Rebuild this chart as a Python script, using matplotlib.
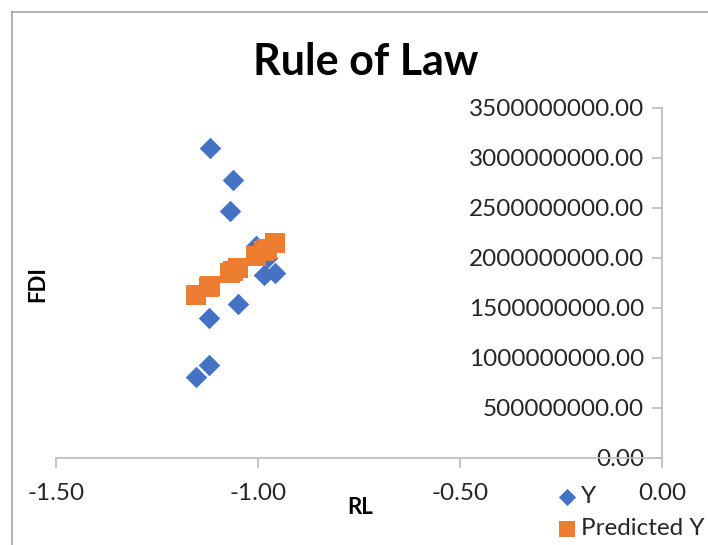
import matplotlib
matplotlib.use("Agg")
import matplotlib.pyplot as plt
from matplotlib.ticker import FuncFormatter, MultipleLocator
from matplotlib.lines import Line2D

plt.rcParams['font.family'] = ['Lato', 'DejaVu Sans']

# Data
rl = [-1.118, -1.062, -1.069, -1.005, -0.978, -0.985, -0.958, -1.049, -1.121, -1.121, -1.153]
fdi_y = [3.10e9, 2.78e9, 2.475e9, 2.12e9, 2.0e9, 1.83e9, 1.855e9, 1.54e9, 1.40e9, 0.93e9, 0.81e9]
fdi_pred = [1.722e9, 1.870e9, 1.852e9, 2.021e9, 2.093e9, 2.074e9, 2.146e9, 1.905e9, 1.714e9, 1.714e9, 1.629e9]

title = "Rule of Law"
x_label = "RL"
y_label = "FDI"
series_names = ["Y", "Predicted Y"]

W, H = 708, 545
fig = plt.figure(figsize=(W / 100, H / 100), dpi=100)

# chart border (partially visible: left & top)
fig.add_artist(Line2D([12 / W, 12 / W], [0, 1 - 12 / H], transform=fig.transFigure,
                      color="#a6a6a6", lw=1.2))
fig.add_artist(Line2D([12 / W, 1], [1 - 12 / H, 1 - 12 / H], transform=fig.transFigure,
                      color="#a6a6a6", lw=1.2))

x0, x1 = 56, 662
ytop, ybot = 108, 458
ax = fig.add_axes([x0 / W, (H - ybot) / H, (x1 - x0) / W, (ybot - ytop) / H])

ax.scatter(rl, fdi_y, marker="D", s=120, color="#4472C4", label=series_names[0], zorder=3, linewidths=0)
ax.scatter(rl, fdi_pred, marker="s", s=200, color="#ED7D31", label=series_names[1], zorder=4, linewidths=0)

ax.set_xlim(-1.5, 0)
ax.set_ylim(0, 3.5e9)
ax.xaxis.set_major_locator(MultipleLocator(0.5))
ax.yaxis.set_major_locator(MultipleLocator(5e8))
ax.xaxis.set_major_formatter(FuncFormatter(lambda v, p: f"{v:.2f}"))
ax.yaxis.set_major_formatter(FuncFormatter(lambda v, p: f"{v:.2f}"))

for s in ["top", "left"]:
    ax.spines[s].set_visible(False)
for s in ["bottom", "right"]:
    ax.spines[s].set_color("#bfbfbf")
    ax.spines[s].set_linewidth(1.3)

ax.tick_params(axis="x", direction="out", length=7, width=1.3, color="#bfbfbf",
               labelsize=17.5, labelcolor="#262626", pad=11)
ax.tick_params(axis="y", left=False, labelleft=False, right=True, labelright=True,
               direction="in", length=7, width=1.3, color="#bfbfbf",
               labelsize=17.5, labelcolor="#262626", pad=-13)
for lab in ax.get_yticklabels():
    lab.set_horizontalalignment("right")

ax.set_facecolor("none")

fig.text(366 / W, 1 - 62 / H, title, ha="center", va="center", fontsize=31, fontweight="bold")
fig.text(360 / W, 1 - 508 / H, x_label, ha="center", va="center", fontsize=16, fontweight="bold")
fig.text(38 / W, 1 - 284 / H, y_label, ha="center", va="center", fontsize=16, fontweight="bold",
         rotation=90)

leg = fig.legend(loc="upper left", bbox_to_anchor=(543 / W, 1 - 474 / H),
                 frameon=False, fontsize=17.5, handletextpad=0.05, handlelength=1.0,
                 labelspacing=0.45, borderpad=0, markerscale=0.8)
for t in leg.get_texts():
    t.set_color("#262626")

fig.savefig("out.png", dpi=100)
